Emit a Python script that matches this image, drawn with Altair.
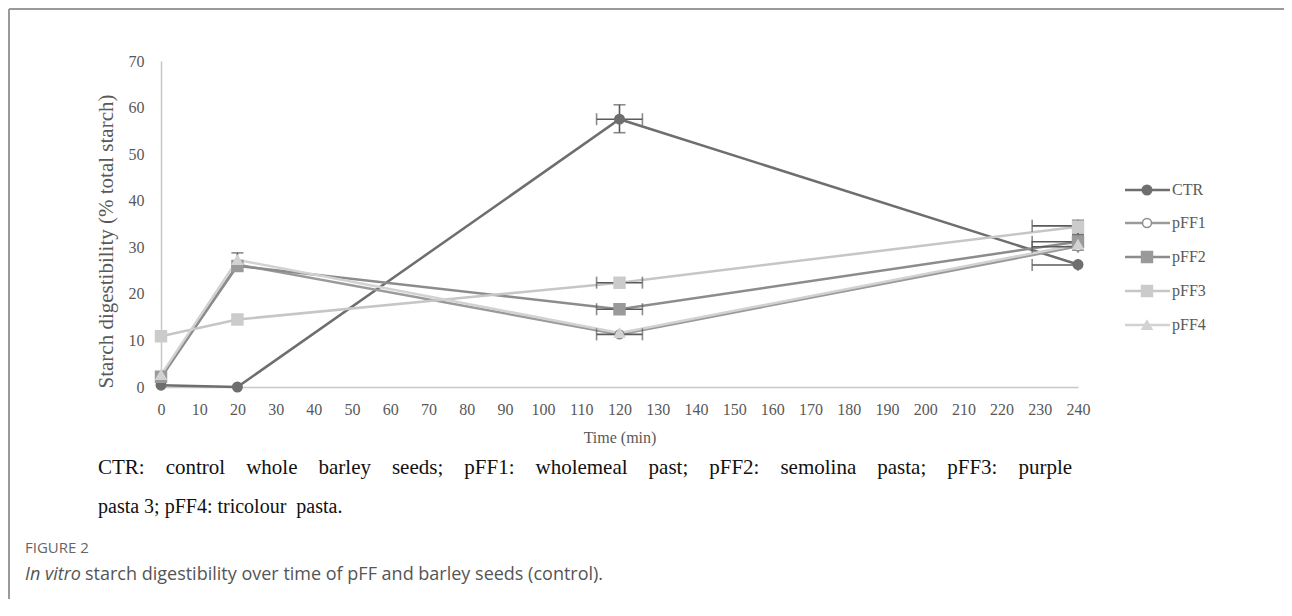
import altair as alt
import pandas as pd

# ---- data ----
times = [0, 20, 120, 240]
series_names = ["CTR", "pFF1", "pFF2", "pFF3", "pFF4"]
ctr = [0.4, 0.0, 57.5, 26.3]
pff1 = [2.0, 26.3, 11.3, 30.2]
pff2 = [2.2, 26.0, 16.7, 31.2]
pff3 = [10.9, 14.5, 22.4, 34.4]
pff4 = [2.6, 27.3, 11.6, 30.6]

# vertical error bars: time, low, high
v_err_t = [120, 20, 240, 240]
v_err_lo = [54.6, 26.0, 32.8, 29.4]
v_err_hi = [60.6, 28.8, 35.8, 32.6]

# horizontal error bars: value, time low, time high
h_err_v = [57.5, 22.4, 16.7, 11.3, 34.6, 31.2, 30.1, 26.2]
h_err_lo = [114, 114, 114, 114, 228, 228, 228, 228]
h_err_hi = [126, 126, 126, 126, 240, 240, 240, 240]

x_ticks = list(range(0, 241, 10))
y_ticks = list(range(0, 71, 10))

G = "\u00a0\u00a0\u00a0 "
caption1 = G.join(["CTR:", "control", "whole", "barley", "seeds;", "pFF1:", "wholemeal", "past;",
                   "pFF2:", "semolina", "pasta;", "pFF3:", "purple"])
caption2 = "pasta 3; pFF4: tricolour\u00a0 pasta."
fig_label = "FIGURE 2"
fig_italic = "In vitro"
fig_rest = "starch digestibility over time of pFF and barley seeds (control)."

values = [ctr, pff1, pff2, pff3, pff4]
line_colors = ["#6e6e6e", "#9a9a9a", "#8c8c8c", "#c6c6c6", "#d2d2d2"]
shapes = ["circle", "circle", "square", "square", "triangle-up"]
fills = ["#6e6e6e", "#ffffff", "#9a9a9a", "#cbcbcb", "#d2d2d2"]
strokes = ["#6e6e6e", "#8c8c8c", "#9a9a9a", "#cbcbcb", "#d2d2d2"]
sizes = [90, 80, 120, 120, 100]

SERIF = "Liberation Serif"
GRAY = "#595959"

xscale = alt.Scale(domain=[0, 240], nice=False, zero=False)
yscale = alt.Scale(domain=[0, 70], nice=False)

xaxis = alt.Axis(title="Time (min)", values=x_ticks, grid=False, ticks=False,
                 domainColor="#c8c8c8", domainWidth=1.5, labelFont=SERIF, labelFontSize=16,
                 labelColor=GRAY, labelPadding=14, titleFont=SERIF, titleFontSize=16,
                 titleFontWeight="normal", titleColor=GRAY, titlePadding=12,
                 labelFlush=False)
yaxis = alt.Axis(title="Starch digestibility (% total starch)", values=y_ticks, grid=False,
                 ticks=False, domainColor="#c8c8c8", domainWidth=1.5, labelFont=SERIF,
                 labelFontSize=16, labelColor=GRAY, labelPadding=17, titleFont=SERIF,
                 titleFontSize=21, titleFontWeight="normal", titleColor=GRAY, titlePadding=12,
                 titleY=180)

layers = []

# series lines
for i, name in enumerate(series_names):
    df = pd.DataFrame({"t": times, "v": values[i]})
    base = alt.Chart(df).encode(
        x=alt.X("t:Q", scale=xscale, axis=xaxis),
        y=alt.Y("v:Q", scale=yscale, axis=yaxis),
    )
    layers.append(base.mark_line(color=line_colors[i], strokeWidth=2.5))

# error bars
vdf = pd.DataFrame({"t": v_err_t, "lo": v_err_lo, "hi": v_err_hi})
layers.append(
    alt.Chart(vdf).mark_errorbar(ticks=True, size=12, thickness=1.6, color="#5a5a5a").encode(
        x=alt.X("t:Q", scale=xscale, axis=xaxis),
        y=alt.Y("lo:Q", scale=yscale, axis=yaxis),
        y2="hi:Q",
    )
)
hdf = pd.DataFrame({"v": h_err_v, "lo": h_err_lo, "hi": h_err_hi})
layers.append(
    alt.Chart(hdf).mark_errorbar(ticks=True, size=12, thickness=1.6, color="#5a5a5a").encode(
        y=alt.Y("v:Q", scale=yscale, axis=yaxis),
        x=alt.X("lo:Q", scale=xscale, axis=xaxis),
        x2="hi:Q",
    )
)

# markers
for i, name in enumerate(series_names):
    df = pd.DataFrame({"t": times, "v": values[i]})
    layers.append(
        alt.Chart(df).mark_point(shape=shapes[i], filled=True, fill=fills[i], stroke=strokes[i],
                                 strokeWidth=1.5, size=sizes[i], opacity=1).encode(
            x=alt.X("t:Q", scale=xscale, axis=xaxis),
            y=alt.Y("v:Q", scale=yscale, axis=yaxis),
        )
    )

one = pd.DataFrame({"a": [0]})

# custom legend (line + marker + label)
leg_y = [129, 162, 196, 230, 264]
for i, name in enumerate(series_names):
    layers.append(alt.Chart(one).mark_rule(color=line_colors[i], strokeWidth=2.5).encode(
        x=alt.value(964), x2=alt.value(1009), y=alt.value(leg_y[i])))
    layers.append(alt.Chart(one).mark_point(shape=shapes[i], filled=True, fill=fills[i],
                                            stroke=strokes[i], strokeWidth=1.5, size=sizes[i],
                                            opacity=1).encode(
        x=alt.value(986), y=alt.value(leg_y[i])))
    layers.append(alt.Chart(one).mark_text(text=name, font=SERIF, fontSize=16, color=GRAY,
                                           align="left", baseline="middle").encode(
        x=alt.value(1011), y=alt.value(leg_y[i])))

# caption lines
layers.append(alt.Chart(one).mark_text(text=caption1, font=SERIF, fontSize=21, color="#111111",
                                       align="left", baseline="middle").encode(
    x=alt.value(-63), y=alt.value(407)))
layers.append(alt.Chart(one).mark_text(text=caption2, font=SERIF, fontSize=20, color="#111111",
                                       align="left", baseline="middle").encode(
    x=alt.value(-63), y=alt.value(446)))

# figure label and legend text
layers.append(alt.Chart(one).mark_text(text=fig_label, font="Open Sans", fontSize=15,
                                       color="#666666", align="left", baseline="middle").encode(
    x=alt.value(-136), y=alt.value(487)))
layers.append(alt.Chart(one).mark_text(text=fig_italic, font="Open Sans", fontSize=18,
                                       fontStyle="italic", color="#555555", align="left",
                                       baseline="middle").encode(
    x=alt.value(-136), y=alt.value(514)))
layers.append(alt.Chart(one).mark_text(text=fig_rest, font="Open Sans", fontSize=18,
                                       color="#555555", align="left", baseline="middle").encode(
    x=alt.value(-76), y=alt.value(514)))

# frame lines (top and left)
layers.append(alt.Chart(one).mark_rule(color="#9a9a9a", strokeWidth=2).encode(
    x=alt.value(-152), x2=alt.value(1131), y=alt.value(-52)))
layers.append(alt.Chart(one).mark_rule(color="#9a9a9a", strokeWidth=2).encode(
    x=alt.value(-152), y=alt.value(-52), y2=alt.value(560)))

chart = alt.layer(*layers).properties(
    width=917, height=326,
    padding={"left": 153, "top": 53, "right": 206, "bottom": 212},
    autosize=alt.AutoSizeParams(type="none"),
).configure(background="white").configure_view(stroke=None)

chart.save("out.html", embed_options={"renderer": "svg", "actions": False})
